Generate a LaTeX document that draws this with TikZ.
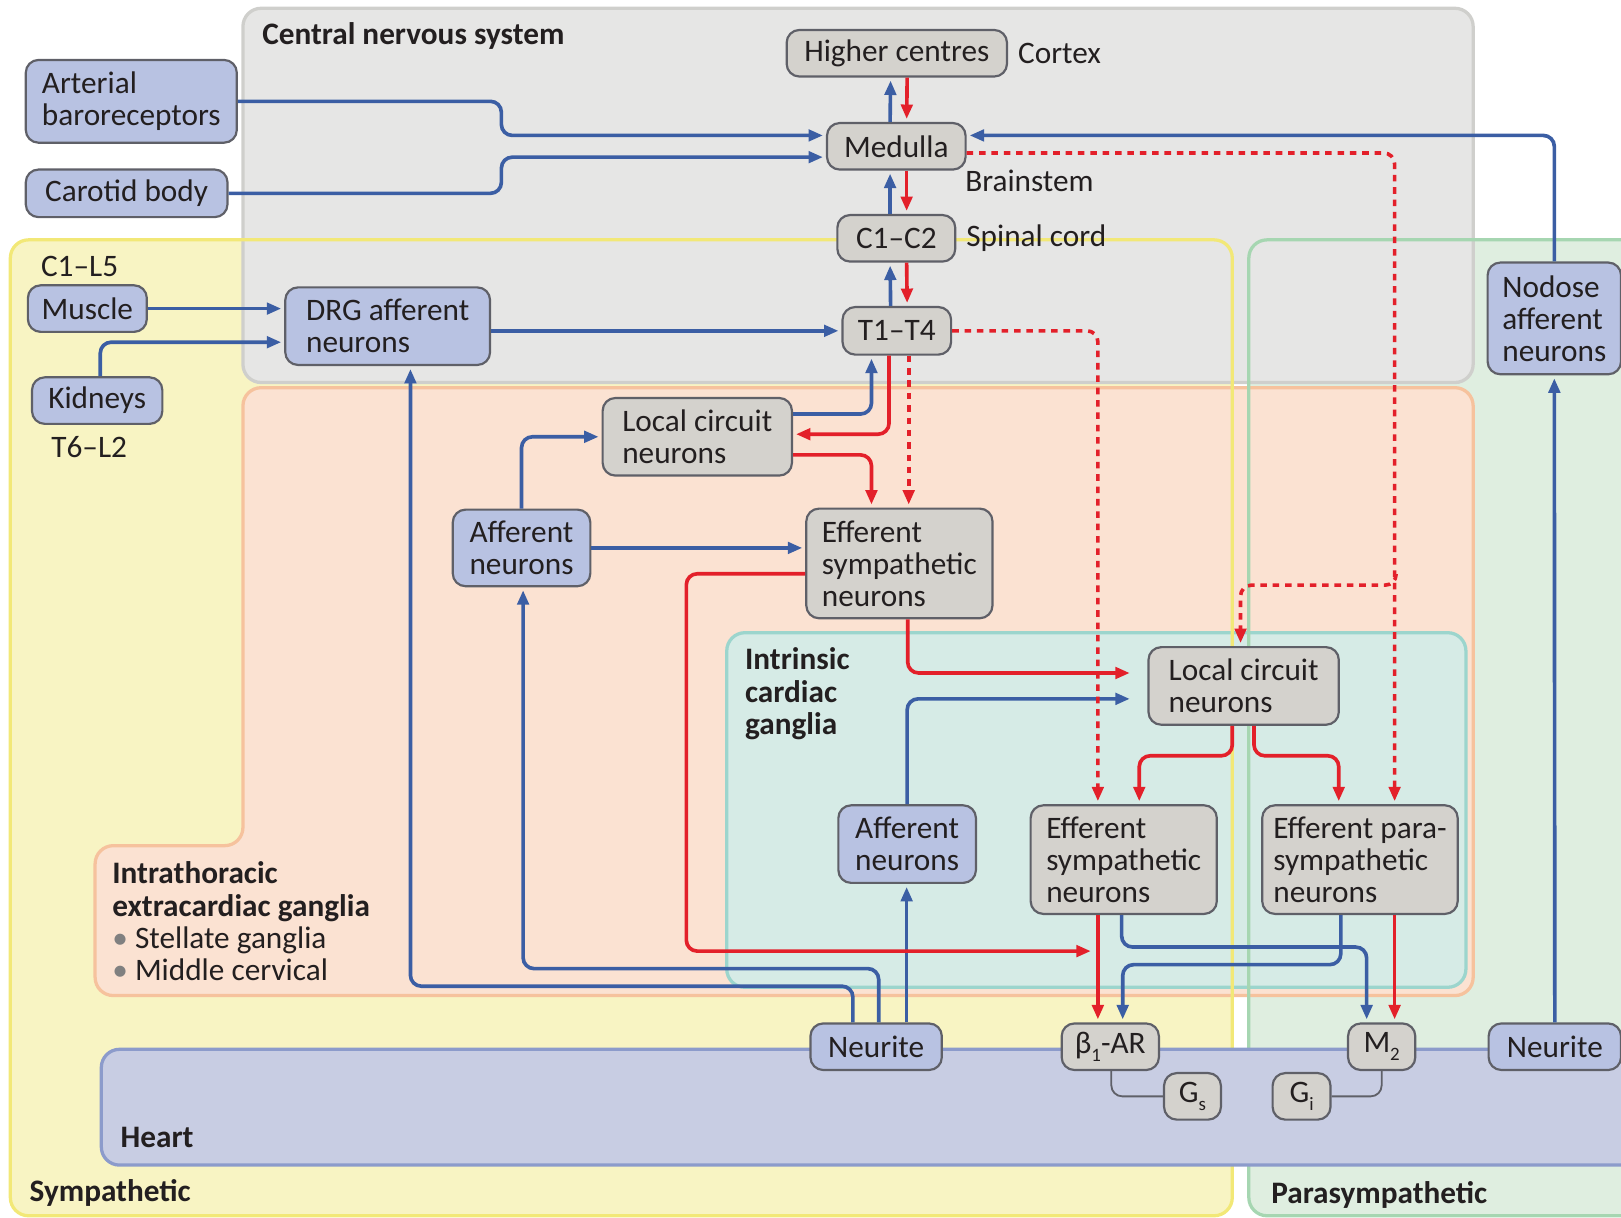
\documentclass[tikz,border=0pt]{standalone}
\usepackage{fontspec}
\setmainfont{Carlito}
\usetikzlibrary{arrows.meta,positioning}

\definecolor{cnsfill}{HTML}{E6E6E5}
\definecolor{cnsedge}{HTML}{CFCFCC}
\definecolor{symfill}{HTML}{F8F4C3}
\definecolor{symedge}{HTML}{F2E877}
\definecolor{parafill}{HTML}{DFEEE0}
\definecolor{paraedge}{HTML}{A6D6B1}
\definecolor{gangfill}{HTML}{FBE2D2}
\definecolor{gangedge}{HTML}{F6C29D}
\definecolor{intrfill}{HTML}{D6EBE6}
\definecolor{intredge}{HTML}{9CD5CD}
\definecolor{heartfill}{HTML}{C8CDE3}
\definecolor{heartedge}{HTML}{8C9BCB}
\definecolor{afffill}{HTML}{B8C2E2}
\definecolor{neurfill}{HTML}{D4D2CD}
\definecolor{boxedge}{HTML}{5F6068}
\definecolor{sensblue}{HTML}{3B5EA4}
\definecolor{motred}{HTML}{E3202A}
\definecolor{inktext}{HTML}{231F20}

\newcommand{\lowsub}[1]{\raisebox{-0.55ex}{\fontsize{5.2}{6}\selectfont #1}}

\begin{document}
\begin{tikzpicture}[
    x=0.01cm, y=-0.01cm,
    every node/.style={font=\fontsize{8.6}{8.8}\selectfont},
    affbox/.style={draw=boxedge, fill=afffill, rounded corners=3.5pt, line width=0.6pt, inner sep=0pt, align=left, text=inktext},
    neurbox/.style={affbox, fill=neurfill},
    zone/.style={rounded corners=5pt, line width=0.9pt},
    heading/.style={font=\fontsize{8.6}{8.9}\selectfont\bfseries, anchor=west, inner sep=0pt, text=inktext, align=left},
    tag/.style={anchor=west, inner sep=0pt, text=inktext, align=left},
    afferent/.style={draw=sensblue, line width=1pt, rounded corners=3pt, -{Triangle[length=1.4mm,width=1.1mm]}, shorten >=0.8pt},
    efferent/.style={afferent, draw=motred},
    central/.style={efferent, dash pattern=on 1.8pt off 1.6pt},
    link/.style={draw=boxedge, line width=0.5pt, rounded corners=3pt}
]
\useasboundingbox (0,0) rectangle (1568,1178);

% Regions
\fill[symfill, rounded corners=5pt] (10,232) rectangle (1192,1176);
\fill[parafill, rounded corners=5pt] (1208,232) rectangle (1600,1176);
\draw[zone, fill=cnsfill, draw=cnsedge] (235,8) rectangle (1425,370);
\draw[zone, fill=gangfill, draw=gangedge] (235,375) -- (1425,375) -- (1425,963) -- (92,963) -- (92,818) -- (235,818) -- cycle;
\draw[zone, fill=intrfill, draw=intredge] (703,612) rectangle (1418,955);
\draw[zone, draw=symedge] (10,232) rectangle (1192,1176);
\draw[zone, draw=paraedge] (1208,232) rectangle (1600,1176);
\draw[zone, fill=heartfill, draw=heartedge] (98,1015) rectangle (1600,1127);

% Region titles
\node[heading] at (253,35) {Central nervous system};
\node[heading] at (28,1154) {Sympathetic};
\node[heading] at (1229,1156) {Parasympathetic};
\node[heading] at (116,1100) {Heart};
\node[heading, anchor=north west] at (108,833) {Intrathoracic\\extracardiac ganglia\\\mdseries{\color{gray}•} Stellate ganglia\\\mdseries{\color{gray}•} Middle cervical};
\node[heading, anchor=north west] at (720,626) {Intrinsic\\cardiac\\ganglia};

% Inputs
\node[affbox, minimum width=2.04cm, minimum height=0.80cm] (baro) at (127,98) {Arterial\\baroreceptors};
\node[affbox, minimum width=1.95cm, minimum height=0.46cm] (carotid) at (122.5,187) {Carotid body};
\node[affbox, minimum width=1.15cm, minimum height=0.45cm] (muscle) at (84.5,298.5) {Muscle};
\node[affbox, minimum width=1.26cm, minimum height=0.45cm] (kidneys) at (94,387.5) {Kidneys};
\node[tag] at (39,258) {C1--L5};
\node[tag] at (49,432) {T6--L2};

% CNS
\node[neurbox, minimum width=2.13cm, minimum height=0.45cm] (higher) at (867.5,51.5) {Higher centres};
\node[neurbox, minimum width=1.34cm, minimum height=0.45cm] (medulla) at (867,141.5) {Medulla};
\node[neurbox, minimum width=1.14cm, minimum height=0.45cm] (cc) at (867,230.5) {C1--C2};
\node[neurbox, minimum width=1.05cm, minimum height=0.46cm] (tt) at (867.5,320) {T1--T4};
\node[tag, right=0.09cm of higher] {Cortex};
\node[tag] at (933,175) {Brainstem};
\node[tag, right=0.09cm of cc] {Spinal cord};
\node[affbox, minimum width=1.98cm, minimum height=0.75cm] (drg) at (375,315.5) {DRG afferent\\neurons};
\node[affbox, minimum width=1.29cm, minimum height=1.08cm] (nodose) at (1503.5,308) {Nodose\\afferent\\neurons};

% Extracardiac ganglia
\node[neurbox, minimum width=1.83cm, minimum height=0.75cm] (local1) at (674.5,422.5) {Local circuit\\neurons};
\node[affbox, minimum width=1.33cm, minimum height=0.74cm] (aff1) at (504.5,530) {Afferent\\neurons};
\node[neurbox, minimum width=1.80cm, minimum height=1.06cm] (eff1) at (870,545) {Efferent\\sympathetic\\neurons};

% Intrinsic cardiac ganglia
\node[neurbox, minimum width=1.84cm, minimum height=0.75cm] (local2) at (1203,663.5) {Local circuit\\neurons};
\node[affbox, minimum width=1.33cm, minimum height=0.75cm] (aff2) at (877.5,816.5) {Afferent\\neurons};
\node[neurbox, minimum width=1.80cm, minimum height=1.05cm] (eff2) at (1087,831.5) {Efferent\\sympathetic\\neurons};
\node[neurbox, minimum width=1.89cm, minimum height=1.05cm] (para) at (1315.5,831.5) {Efferent para-\\sympathetic\\neurons};

% Heart
\node[affbox, minimum width=1.27cm, minimum height=0.45cm] (neuriteL) at (847.5,1012.5) {Neurite};
\node[affbox, minimum width=1.28cm, minimum height=0.45cm] (neuriteR) at (1504,1012.5) {Neurite};
\node[neurbox, minimum width=0.94cm, minimum height=0.45cm] (beta) at (1074,1012.5) {β\lowsub{1}-AR};
\node[neurbox, minimum width=0.65cm, minimum height=0.45cm] (mtwo) at (1336.5,1012.5) {M\lowsub{2}};
\node[neurbox, minimum width=0.55cm, minimum height=0.45cm] (gs) at (1153.5,1060.5) {G\lowsub{s}};
\node[neurbox, minimum width=0.56cm, minimum height=0.45cm] (gi) at (1259,1060.5) {G\lowsub{i}};
\draw[link] ([xshift=0.01cm]beta.south) |- (gs.west);
\draw[link] (mtwo.south) |- (gi.east);

\coordinate (join) at (1058,920);
\coordinate (split) at (1350.5,556);

% Afferent connections
\draw[afferent] (baro.east) -- (485,98) |- ([yshift=0.105cm]medulla.west);
\draw[afferent] (carotid.east) -- (485,187) |- ([yshift=-0.105cm]medulla.west);
\draw[afferent] (nodose.north) |- ([yshift=0.105cm]medulla.east);
\draw[afferent] (muscle.east) -- (muscle.east -| drg.west);
\draw[afferent] ([xshift=0.03cm]kidneys.north) |- ([yshift=-0.155cm]drg.west);
\draw[afferent] (drg.east |- tt.west) -- (tt.west);
\draw[afferent] ([xshift=-0.06cm]medulla.north) -- ([xshift=-0.06cm]higher.south);
\draw[afferent] ([xshift=-0.06cm]cc.north) -- ([xshift=-0.06cm]medulla.south);
\draw[afferent] ([xshift=-0.06cm]tt.north) -- ([xshift=-0.06cm]cc.south);
\draw[afferent] ([yshift=0.22cm]local1.east) -| ([xshift=-0.245cm]tt.south);
\draw[afferent] (aff1.north) |- (local1.west);
\draw[afferent] (aff1.east) -- (aff1.east -| eff1.west);
\draw[afferent, shorten >=0.17cm] (aff2.north) |- ([yshift=-0.125cm]local2.west);
\draw[afferent] ([xshift=-0.02cm]eff2.south) -- ++(0,31) -| ([xshift=-0.145cm]mtwo.north);
\draw[afferent] ([xshift=-0.185cm]para.south) -- ++(0,48) -| ([xshift=0.12cm]beta.north);
\draw[afferent] (neuriteR.north) -- (nodose.south);
\draw[afferent] ([xshift=0.295cm]neuriteL.north) -- ([xshift=0.295cm]neuriteL.north |- aff2.south);
\draw[afferent] ([xshift=0.025cm]neuriteL.north) -- ++(0,-52) -| ([xshift=0.015cm]aff1.south);
\draw[afferent] ([xshift=-0.225cm]neuriteL.north) -- ++(0,-35) -| ([xshift=0.22cm]drg.south);

% Efferent connections
\draw[efferent] ([xshift=0.1cm]higher.south) -- ([xshift=0.1cm]medulla.north);
\draw[efferent] ([xshift=0.1cm]medulla.south) -- ([xshift=0.1cm]cc.north);
\draw[efferent] ([xshift=0.1cm]cc.south) -- ([xshift=0.1cm]tt.north);
\draw[efferent] ([xshift=-0.075cm]tt.south) |- ([yshift=0.025cm]local1.east);
\draw[efferent] ([yshift=-0.175cm]local1.east) -| ([xshift=-0.27cm]eff1.north);
\draw[efferent] ([yshift=-0.1cm]eff1.west) -- ++(-115,0) |- (join);
\draw[efferent, shorten >=0.17cm] ([xshift=0.08cm]eff1.south) |- ([yshift=0.125cm]local2.west);
\draw[efferent] ([xshift=-0.11cm]local2.south) -- ++(0,29) -| ([xshift=0.15cm]eff2.north);
\draw[efferent] ([xshift=0.1cm]local2.south) -- ++(0,29) -| ([xshift=-0.205cm]para.north);
\draw[efferent] ([xshift=-0.25cm]eff2.south) -- ([xshift=-0.25cm]eff2.south |- beta.north);
\draw[efferent] ([xshift=0.335cm]para.south) -- ([xshift=0.335cm]para.south |- mtwo.north);

% Central efferent drive
\draw[central] ([xshift=0.115cm]tt.south) -- ([xshift=0.115cm]tt.south |- eff1.north);
\draw[central] (tt.east) -| ([xshift=-0.25cm]eff2.north);
\draw[central] ([yshift=-0.065cm]medulla.east) -| ([xshift=0.335cm]para.north);
\draw[central] (split) -- ++(0,10) -| ([xshift=-0.03cm]local2.north);

\end{tikzpicture}
\end{document}
